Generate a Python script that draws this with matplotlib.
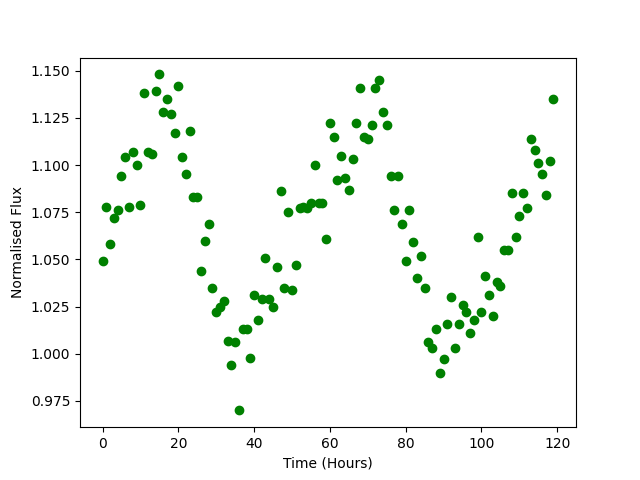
import numpy as np
import matplotlib
matplotlib.use("Agg")
import matplotlib.pyplot as plt

# hourly flux readings, 0..119 h
hours = np.arange(120)
flux = [
    1.049, 1.078, 1.058, 1.072, 1.076, 1.094, 1.104, 1.078, 1.107, 1.100,
    1.079, 1.138, 1.107, 1.106, 1.139, 1.148, 1.128, 1.135, 1.127, 1.117,
    1.142, 1.104, 1.095, 1.118, 1.083, 1.083, 1.044, 1.060, 1.069, 1.035,
    1.022, 1.025, 1.028, 1.007, 0.994, 1.006, 0.970, 1.013, 1.013, 0.998,
    1.031, 1.018, 1.029, 1.051, 1.029, 1.025, 1.046, 1.086, 1.035, 1.075,
    1.034, 1.047, 1.077, 1.078, 1.077, 1.080, 1.100, 1.080, 1.080, 1.061,
    1.122, 1.115, 1.092, 1.105, 1.093, 1.087, 1.103, 1.122, 1.141, 1.115,
    1.114, 1.121, 1.141, 1.145, 1.128, 1.121, 1.094, 1.076, 1.094, 1.069,
    1.049, 1.076, 1.059, 1.040, 1.052, 1.035, 1.006, 1.003, 1.013, 0.990,
    0.997, 1.016, 1.030, 1.003, 1.016, 1.026, 1.022, 1.011, 1.018, 1.062,
    1.022, 1.041, 1.031, 1.020, 1.038, 1.036, 1.055, 1.055, 1.085, 1.062,
    1.073, 1.085, 1.077, 1.114, 1.108, 1.101, 1.095, 1.084, 1.102, 1.135,
]

fig = plt.figure(figsize=(6.4, 4.8), dpi=100)
plt.plot(hours, flux, 'o', color='green')
plt.xlabel('Time (Hours)')
plt.ylabel('Normalised Flux')
plt.savefig('out.png')
